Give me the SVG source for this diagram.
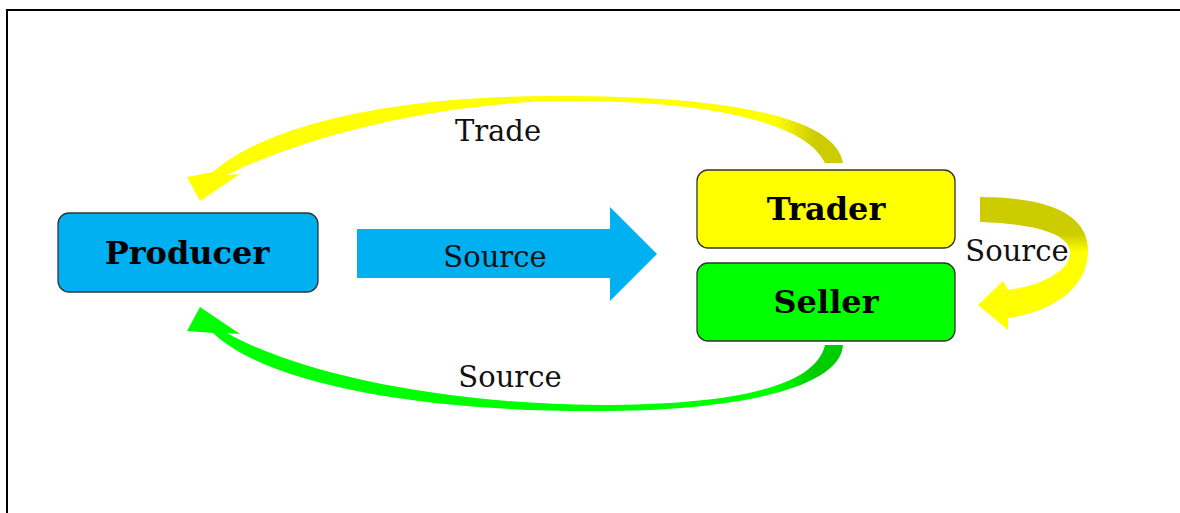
<svg xmlns="http://www.w3.org/2000/svg" width="1180" height="513" viewBox="0 0 1180 513">
<style>
.box{stroke:#333;stroke-width:1.3}
.lbl{font-family:"DejaVu Serif","Liberation Serif",serif;font-weight:bold;font-size:32px;fill:#000;text-anchor:middle}
.txt{font-family:"DejaVu Serif","Liberation Serif",serif;font-size:29px;fill:#111;text-anchor:middle}
</style>
<defs>
<linearGradient id="gTop" gradientUnits="userSpaceOnUse" x1="775" y1="0" x2="815" y2="0">
<stop offset="0" stop-color="#FFFF00"/><stop offset="1" stop-color="#CCCC00"/>
</linearGradient>
<linearGradient id="gBot" gradientUnits="userSpaceOnUse" x1="775" y1="0" x2="815" y2="0">
<stop offset="0" stop-color="#00FF00"/><stop offset="1" stop-color="#00CC00"/>
</linearGradient>
<linearGradient id="gLoop" gradientUnits="userSpaceOnUse" x1="0" y1="234" x2="0" y2="252">
<stop offset="0" stop-color="#CCCC00"/><stop offset="1" stop-color="#FFFF00"/>
</linearGradient>
</defs>
<rect width="1180" height="513" fill="#fff"/>
<path d="M7 513 V10 H1180" fill="none" stroke="#000" stroke-width="2"/>
<g id="connectors">
<path id="trade-arrow" fill="url(#gTop)" d="M843 163 C835 115 720 96 560 96 C405 95 272 121 213 172 L187 177 L200 201 L240 174 L227 175 C298 139 430 103 560 101 C700 100 805 120 825 163 Z"/>
<path id="source-bottom-arrow" fill="url(#gBot)" d="M843 345 C840 392 720 411 600 411 C435 412 272 388 213 333 L187 331 L200 307 L240 334 L227 333 C298 373 440 404 600 405 C720 405 815 390 825 345 Z"/>
<path id="source-middle-arrow" fill="#00B0F0" d="M357 229 H610 V207 L657 254 L610 301 V278 H357 Z"/>
<path id="source-loop-arrow" fill="url(#gLoop)" d="M980 197 C1050 197 1088 215 1088 250 C1088 290 1050 312 1008 318 L1008 330 L978 305 L1003 281 L1008 290 C1045 285 1068 270 1070 255 C1072 235 1040 224 980 222 Z"/>
<text class="txt" x="498" y="141">Trade</text>
<text class="txt" x="495" y="267">Source</text>
<text class="txt" x="510" y="387">Source</text>
<text class="txt" x="1017" y="261">Source</text>
</g>
<g id="producer">
<rect class="box" x="58" y="213" width="260" height="79" rx="11" fill="#00B0F0"/>
<text class="lbl" x="187" y="264">Producer</text>
</g>
<g id="trader">
<rect class="box" x="697" y="170" width="258" height="78" rx="11" fill="#FFFF00"/>
<text class="lbl" x="826" y="220">Trader</text>
</g>
<g id="seller">
<rect class="box" x="697" y="263" width="258" height="78" rx="11" fill="#00FF00"/>
<text class="lbl" x="826" y="313">Seller</text>
</g>
</svg>
